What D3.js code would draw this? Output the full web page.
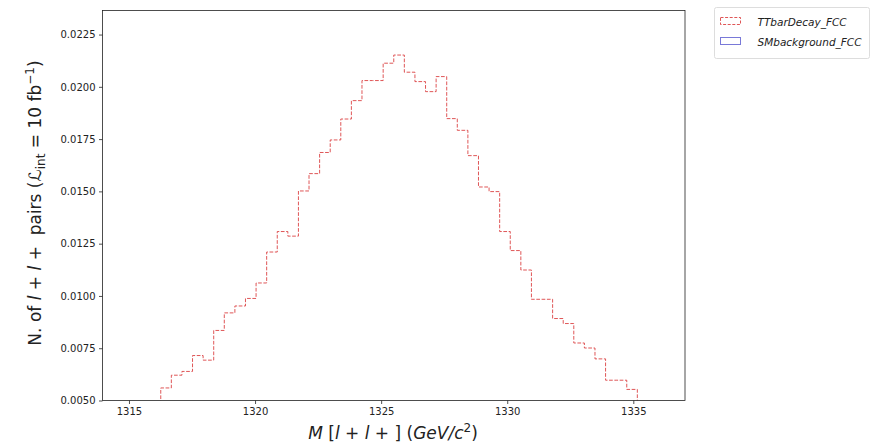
<!DOCTYPE html>
<html>
<head>
<meta charset="utf-8">
<script src="https://cdn.jsdelivr.net/npm/d3@7"></script>
<style>
  body { margin: 0; background: #fff; }
  svg text { font-family: "DejaVu Sans", sans-serif; fill: #222; white-space: pre; }
</style>
</head>
<body>
<div id="chart"></div>
<script>
// histogram binning (50 bins, 1315 -> 1336 GeV)
const X_MIN = 1315
const X_MAX = 1336
const N_BINS = 50

// bin contents (bins below 0.005 are hidden by the y limit)
const ttbarDecay = [
  0.0032, 0.0040, 0.0046, 0.00560, 0.00621, 0.00639, 0.00715, 0.00693, 0.00835, 0.00919,
  0.00952, 0.00988, 0.01062, 0.01210, 0.01308, 0.01286, 0.01502, 0.01585, 0.01686, 0.01746,
  0.01846, 0.01934, 0.02030, 0.02030, 0.02113, 0.02152, 0.02070, 0.02025, 0.01977, 0.02049,
  0.01848, 0.01792, 0.01671, 0.01521, 0.01499, 0.01308, 0.01217, 0.01124, 0.00984, 0.00984,
  0.00892, 0.00868, 0.00775, 0.00751, 0.00699, 0.00597, 0.00597, 0.00553, 0.0044, 0.0035
]
const smBackground = d3.range(N_BINS).map(() => 0)

const yTicks = [0.005, 0.0075, 0.01, 0.0125, 0.015, 0.0175, 0.02, 0.0225]
const xTicks = [1315, 1320, 1325, 1330, 1335]
const legendNames = ['TTbarDecay_FCC', 'SMbackground_FCC']

const W = 879, H = 444
const LEFT = 102.5, RIGHT = 685, TOP = 10.5, BOTTOM = 400.5
const RED = '#d9383a'
const BLUE = '#4040c8'

const svg = d3.select('#chart').append('svg')
    .attr('width', W)
    .attr('height', H)

const pad = (X_MAX - X_MIN) * 0.05
const x = d3.scaleLinear().domain([X_MIN - pad, X_MAX + pad]).range([LEFT, RIGHT])
const y = d3.scaleLinear().domain([0.005, 0.02365]).range([BOTTOM, TOP])

svg.append('clipPath').attr('id', 'plot-clip')
  .append('rect')
    .attr('x', LEFT).attr('y', TOP)
    .attr('width', RIGHT - LEFT).attr('height', BOTTOM - TOP)

const edges = d3.range(N_BINS + 1).map(i => X_MIN + i * (X_MAX - X_MIN) / N_BINS)

// outline of a step histogram, closed down to zero at both ends
function stepPoints (values) {
    const pts = [[edges[0], 0]]
    values.forEach((v, i) => {
        pts.push([edges[i], v])
        pts.push([edges[i + 1], v])
    })
    pts.push([edges[N_BINS], 0])
    return pts
}

const line = d3.line().x(d => x(d[0])).y(d => y(d[1]))

const g = svg.append('g').attr('clip-path', 'url(#plot-clip)')

g.append('path')
    .attr('d', line(stepPoints(smBackground)))
    .attr('fill', 'none')
    .attr('stroke', BLUE)
    .attr('stroke-opacity', 0.7)
    .attr('stroke-width', 1)

g.append('path')
    .attr('d', line(stepPoints(ttbarDecay)))
    .attr('fill', 'none')
    .attr('stroke', RED)
    .attr('stroke-opacity', 0.85)
    .attr('stroke-width', 1)
    .attr('stroke-dasharray', '3.7,1.6')

// axes
const xAxis = svg.append('g')
    .attr('transform', `translate(0,${BOTTOM})`)
    .call(d3.axisBottom(x).tickValues(xTicks).tickSize(3.5).tickPadding(3.5).tickFormat(d3.format('d')))
const yAxis = svg.append('g')
    .attr('transform', `translate(${LEFT},0)`)
    .call(d3.axisLeft(y).tickValues(yTicks).tickSize(3.5).tickPadding(3.5).tickFormat(d3.format('.4f')))

for (const ax of [xAxis, yAxis]) {
    ax.select('.domain').remove()
    ax.selectAll('line').attr('stroke', '#222').attr('stroke-width', 0.8)
    ax.selectAll('text').attr('font-size', 10).attr('font-family', '"DejaVu Sans", sans-serif').attr('fill', '#222')
}

svg.append('rect')
    .attr('x', LEFT).attr('y', TOP)
    .attr('width', RIGHT - LEFT).attr('height', BOTTOM - TOP)
    .attr('fill', 'none')
    .attr('stroke', '#222')
    .attr('stroke-width', 0.8)

// x label: M [l + l + ] (GeV/c^2)
const xl = svg.append('text')
    .attr('x', 393)
    .attr('y', 439)
    .attr('text-anchor', 'middle')
    .attr('font-size', 17)
xl.append('tspan').attr('font-style', 'italic').text('M')
xl.append('tspan').text(' [')
xl.append('tspan').attr('font-style', 'italic').text('l')
xl.append('tspan').text(' + ')
xl.append('tspan').attr('font-style', 'italic').text('l')
xl.append('tspan').text(' + ] (')
xl.append('tspan').attr('font-style', 'italic').text('GeV/c')
xl.append('tspan').attr('font-size', 12).attr('dy', -7).text('2')
xl.append('tspan').attr('dy', 7).text(')')

// y label: N. of l + l +  pairs (L_int = 10 fb^-1)
const yl = svg.append('text')
    .attr('transform', 'translate(41,203) rotate(-90)')
    .attr('text-anchor', 'middle')
    .attr('font-size', 17)
yl.append('tspan').text('N. of ')
yl.append('tspan').attr('font-style', 'italic').text('l')
yl.append('tspan').text(' + ')
yl.append('tspan').attr('font-style', 'italic').text('l')
yl.append('tspan').text(' +\u00a0\u00a0pairs (')
yl.append('tspan').attr('font-style', 'italic').text('ℒ')
yl.append('tspan').attr('font-size', 12).attr('dy', 4).text('int')
yl.append('tspan').attr('dy', -4).text(' = 10 fb')
yl.append('tspan').attr('font-size', 12).attr('dy', -7).text('−1')
yl.append('tspan').attr('dy', 7).text(')')

// legend
const lg = svg.append('g').attr('transform', 'translate(714.5,7.5)')
lg.append('rect')
    .attr('width', 155).attr('height', 51)
    .attr('rx', 2)
    .attr('fill', '#fff')
    .attr('stroke', '#ddd')
    .attr('stroke-width', 1)

const legendStyles = [
    { stroke: RED, dash: '3,1.6', opacity: 0.85 },
    { stroke: BLUE, dash: null, opacity: 0.7 }
]
legendNames.forEach((name, i) => {
    const row = lg.append('g').attr('transform', `translate(6,${10 + i * 20})`)
    row.append('rect')
        .attr('width', 20).attr('height', 7)
        .attr('fill', 'none')
        .attr('stroke', legendStyles[i].stroke)
        .attr('stroke-opacity', legendStyles[i].opacity)
        .attr('stroke-dasharray', legendStyles[i].dash)
    row.append('text')
        .attr('x', 37).attr('y', 8)
        .attr('font-size', 10.5)
        .attr('font-style', 'italic')
        .text(name)
})
</script>
</body>
</html>
